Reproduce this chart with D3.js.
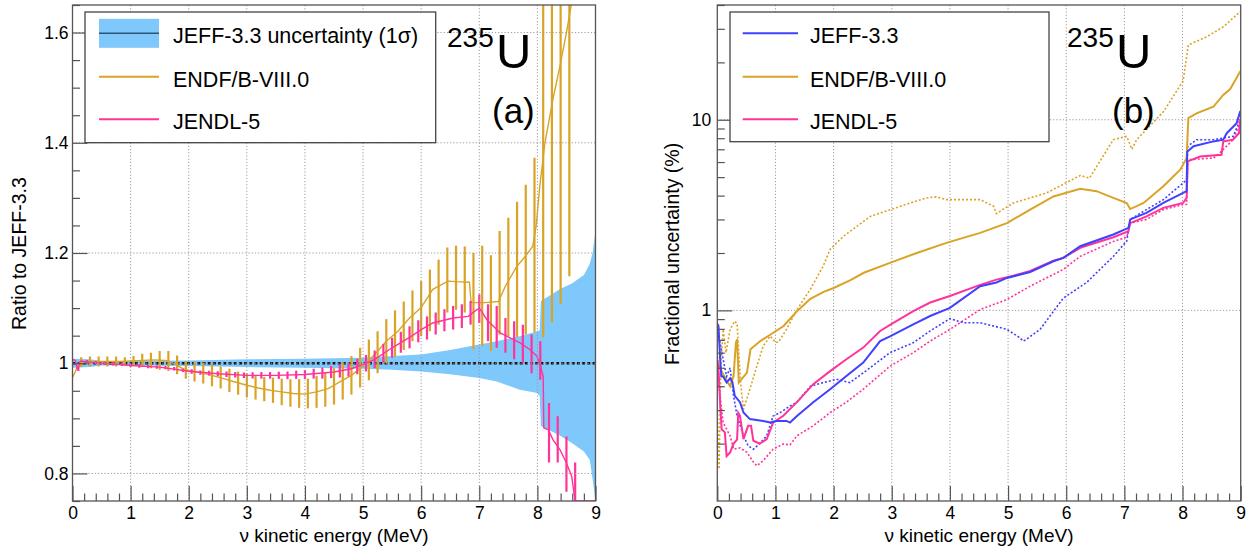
<!DOCTYPE html>
<html><head><meta charset="utf-8">
<script src="https://cdn.jsdelivr.net/npm/d3@7"></script>
<style>
body{margin:0;background:#fff}
text{font-family:"Liberation Sans",Arial,Helvetica,sans-serif;fill:#000}
</style></head><body>
<svg id="c" width="1250" height="546"></svg>
<script>
// ---------------- DATA ----------------
const xTicks = [0,1,2,3,4,5,6,7,8,9];
const xTickLabels = ["0","1","2","3","4","5","6","7","8","9"];
const yTicksL = [0.8,1,1.2,1.4,1.6];
const yTickLabelsL = ["0.8","1","1.2","1.4","1.6"];
const yTicksR = [1,10];
const yTickLabelsR = ["1","10"];
const yMinorR = [0.2,0.3,0.4,0.5,0.6,0.7,0.8,0.9,2,3,4,5,6,7,8,9,20,30,40];

// Left panel: JEFF-3.3 uncertainty band
const bandE  = [0,0.3,0.5,1,2,3,4,5,5.5,6,6.5,7,7.3,7.7,8.0,8.04,8.06,8.2,8.4,8.6,8.8,8.9,8.95,9.0];
const bandHi = [1.008,1.007,1.004,1.004,1.005,1.007,1.008,1.010,1.013,1.016,1.024,1.034,1.040,1.049,1.058,1.060,1.113,1.122,1.135,1.145,1.16,1.18,1.20,1.24];
const bandLo = [0.992,0.993,0.996,0.996,0.995,0.993,0.992,0.990,0.988,0.985,0.980,0.973,0.967,0.952,0.946,0.940,0.886,0.879,0.868,0.855,0.840,0.825,0.790,0.750];

// Left panel: ENDF/B-VIII.0 / JEFF-3.3 ratio
const endfRatioE = [0,0.05,0.1,0.2,0.4,0.6,0.8,1.0,1.2,1.4,1.6,1.7,1.8,1.9,2.0,2.2,2.4,2.6,2.8,3.0,3.2,3.4,3.6,3.8,4.0,4.2,4.4,4.6,4.8,5.0,5.2,5.4,5.6,5.8,6.0,6.2,6.46,6.6,6.83,6.86,7.1,7.33,7.45,7.64,7.8,7.92,7.98,8.04,8.13,8.27,8.39,8.5,8.6,8.7];
const endfRatio  = [0.974,0.985,0.998,1.002,1.003,1.003,1.003,1.004,1.005,1.006,1.005,1.002,0.996,0.990,0.987,0.983,0.978,0.972,0.966,0.960,0.955,0.951,0.948,0.945,0.944,0.948,0.954,0.966,0.978,0.995,1.016,1.040,1.058,1.082,1.101,1.134,1.149,1.148,1.147,1.110,1.110,1.112,1.140,1.175,1.195,1.212,1.250,1.320,1.400,1.480,1.540,1.600,1.660,1.750];
const endfBarE  = [0.15,0.3,0.45,0.6,0.75,0.9,1.05,1.2,1.35,1.5,1.65,1.8,1.95,2.1,2.25,2.4,2.55,2.7,2.85,3.0,3.15,3.3,3.45,3.6,3.75,3.9,4.05,4.2,4.35,4.5,4.65,4.8,4.95,5.1,5.25,5.4,5.55,5.7,5.85,6.0,6.15,6.3,6.45,6.6,6.75,6.9,7.05,7.2,7.35,7.5,7.65,7.8,7.95,8.1,8.25,8.4,8.55];
const endfBarLo = [0.993,0.994,0.994,0.994,0.994,0.995,0.995,0.993,0.991,0.988,0.986,0.980,0.972,0.967,0.963,0.958,0.954,0.948,0.943,0.938,0.934,0.931,0.928,0.924,0.921,0.919,0.918,0.919,0.921,0.925,0.934,0.943,0.956,0.969,0.982,1.000,1.012,1.024,1.040,1.049,1.058,1.070,1.092,1.097,1.092,1.025,1.031,1.022,1.052,1.049,1.047,1.052,1.056,1.047,1.074,1.107,1.158];
const endfBarHi = [1.011,1.012,1.012,1.012,1.012,1.011,1.013,1.017,1.019,1.022,1.022,1.014,1.004,1.003,1.001,0.998,0.994,0.990,0.985,0.982,0.978,0.975,0.974,0.972,0.971,0.971,0.972,0.977,0.983,0.991,1.002,1.013,1.028,1.043,1.058,1.080,1.096,1.112,1.132,1.149,1.170,1.188,1.210,1.213,1.212,1.200,1.213,1.196,1.240,1.264,1.293,1.324,1.373,1.900,2.000,2.100,2.200];

// Left panel: JENDL-5 / JEFF-3.3 ratio
const jendlRatioE = [0,0.05,0.08,0.1,0.12,0.15,0.2,0.3,0.5,0.8,1.0,1.5,2.0,2.5,3.0,3.5,4.0,4.5,4.8,5.0,5.2,5.5,5.8,6.0,6.2,6.55,6.81,6.93,7.0,7.04,7.13,7.36,7.53,7.7,7.87,7.99,8.04,8.1,8.11,8.19,8.27,8.39,8.5,8.59,8.65,8.7,9.0];
const jendlRatio  = [1.007,1.005,0.990,0.990,1.002,1.004,1.003,1.002,1.000,0.998,0.996,0.993,0.9855,0.981,0.978,0.978,0.9795,0.984,0.990,0.998,1.007,1.028,1.047,1.061,1.073,1.082,1.085,1.095,1.100,1.094,1.079,1.055,1.046,1.037,1.025,1.013,1.000,0.976,0.883,0.879,0.861,0.843,0.819,0.795,0.750,0.700,0.700];
const jendlBarE = [0.1,0.25,0.4,0.55,0.7,0.85,1.0,1.15,1.3,1.45,1.6,1.75,1.9,2.05,2.2,2.35,2.5,2.65,2.8,2.95,3.1,3.25,3.4,3.55,3.7,3.85,4.0,4.15,4.3,4.45,4.6,4.75,4.9,5.05,5.2,5.35,5.5,5.65,5.8,5.95,6.1,6.25,6.4,6.55,6.7,6.85,7.0,7.15,7.3,7.45,7.6,7.75,7.9,8.05,8.2,8.35,8.5,8.65];
const jendlBarVal = [0.99,1.003,1.001,1.0,0.999,0.998,0.996,0.995,0.994,0.993,0.992,0.99,0.987,0.985,0.983,0.982,0.981,0.980,0.979,0.978,0.978,0.978,0.978,0.978,0.978,0.979,0.9795,0.981,0.982,0.984,0.986,0.989,0.994,1.0,1.007,1.018,1.028,1.038,1.047,1.058,1.064,1.072,1.078,1.0825,1.0855,1.0915,1.099,1.0735,1.066,1.0505,1.0415,1.0355,1.017,1.005,0.874,0.862,0.817,0.77];
const jendlBarErr = [0.004,0.003,0.003,0.003,0.003,0.003,0.003,0.003,0.003,0.003,0.003,0.003,0.003,0.004,0.004,0.0045,0.0045,0.005,0.005,0.005,0.0055,0.006,0.006,0.0065,0.007,0.0075,0.008,0.009,0.01,0.011,0.012,0.013,0.014,0.015,0.016,0.017,0.018,0.019,0.02,0.02,0.021,0.02,0.02,0.0215,0.0215,0.0215,0.026,0.0335,0.038,0.0315,0.0345,0.0345,0.035,0.035,0.054,0.042,0.05,0.05];

// Right panel: fractional uncertainties (%)
const jeffE  = [0,0.02,0.05,0.07,0.1,0.16,0.22,0.26,0.3,0.39,0.45,0.56,0.79,0.91,1.02,1.19,1.25,1.37,1.65,1.94,2.22,2.51,2.8,2.97,3.37,3.66,4.0,4.52,4.8,4.98,5.38,5.78,5.95,6.24,6.81,7.07,7.1,7.38,7.67,8.01,8.07,8.08,8.19,8.53,8.7,8.76,8.93,8.99,9.0];
const jeffU  = [0.85,0.83,0.55,0.45,0.45,0.418,0.44,0.42,0.356,0.33,0.291,0.269,0.263,0.258,0.263,0.263,0.258,0.279,0.33,0.386,0.453,0.532,0.69,0.73,0.845,0.934,1.03,1.34,1.40,1.48,1.59,1.81,1.885,2.17,2.5,2.71,3.0,3.25,3.66,4.13,4.22,6.8,7.26,7.7,7.86,8.5,9.6,11.0,11.0];
const jeffDE = [0,0.02,0.1,0.16,0.22,0.28,0.34,0.45,0.53,0.62,0.73,0.85,0.96,1.08,1.25,1.37,1.6,1.82,2.05,2.28,2.51,2.97,3.37,3.66,4.0,4.23,4.52,4.98,5.2,5.26,5.3,5.55,5.95,6.35,6.81,7.04,7.1,7.38,7.67,8.01,8.07,8.09,8.24,8.53,8.87,8.99,9.0];
const jeffDU = [0.8,0.75,0.554,0.45,0.5,0.356,0.279,0.22,0.195,0.187,0.2,0.22,0.279,0.291,0.315,0.33,0.40,0.418,0.435,0.418,0.47,0.6,0.677,0.78,0.905,0.862,0.862,0.795,0.719,0.69,0.70,0.795,1.16,1.40,1.92,2.31,3.0,3.38,3.81,4.66,4.85,7.26,7.86,7.86,8.18,10.0,10.0];
const endfE  = [0,0.02,0.1,0.22,0.28,0.32,0.34,0.37,0.51,0.57,0.74,0.91,1.14,1.37,1.6,1.83,2.0,2.29,2.52,2.98,3.43,3.94,4.52,4.98,5.38,5.78,6.24,6.52,6.81,7.04,7.1,7.33,7.67,7.96,8.04,8.07,8.1,8.24,8.53,8.7,8.82,8.99,9.0];
const endfU  = [0.55,0.52,0.462,0.40,0.453,0.677,0.705,0.418,0.472,0.625,0.69,0.745,0.828,0.99,1.15,1.25,1.31,1.44,1.575,1.78,2.0,2.26,2.55,2.87,3.38,3.96,4.34,4.22,3.89,3.66,3.4,3.66,4.48,5.47,6.05,6.3,10.2,10.8,11.7,13.5,14.5,17.9,18.0];
const endfDE = [0,0.03,0.06,0.1,0.15,0.22,0.3,0.34,0.4,0.45,0.56,0.68,0.79,0.91,1.0,1.05,1.19,1.37,1.6,1.82,1.94,2.17,2.4,2.63,2.98,3.32,3.6,3.77,3.94,4.52,4.75,4.8,5.09,5.66,6.24,6.4,6.81,7.04,7.13,7.21,7.67,8.01,8.1,8.42,8.7,8.99,9.0];
const endfDU = [0.3,0.147,0.5,0.795,0.6,0.795,0.879,0.85,0.418,0.303,0.386,0.51,0.65,0.733,0.68,0.68,0.795,1.01,1.29,1.705,2.09,2.45,2.76,3.11,3.38,3.66,3.89,3.94,3.81,3.81,3.52,3.22,3.66,4.13,5.1,4.95,7.86,8.18,7.0,7.86,11.0,16.0,24.7,27.3,30.7,36.9,37.0];
const jendlE  = [0,0.02,0.05,0.075,0.13,0.16,0.22,0.28,0.34,0.36,0.39,0.45,0.53,0.58,0.62,0.73,0.85,0.96,1.13,1.37,1.65,1.94,2.22,2.51,2.8,2.97,3.37,3.66,4.0,4.52,4.8,5.09,5.38,5.78,5.95,6.24,6.81,7.07,7.1,7.38,7.67,8.01,8.07,8.09,8.3,8.67,8.7,8.87,8.97,8.99,9.0];
const jendlU  = [0.55,0.5,0.32,0.238,0.229,0.172,0.18,0.2,0.21,0.29,0.28,0.211,0.248,0.248,0.207,0.2,0.211,0.258,0.279,0.33,0.41,0.48,0.554,0.638,0.78,0.84,0.99,1.10,1.19,1.36,1.45,1.52,1.61,1.82,1.885,2.13,2.42,2.6,2.87,3.11,3.45,3.66,3.89,6.05,6.42,6.55,7.7,7.86,8.5,10.0,10.0];
const jendlDE = [0,0.03,0.1,0.22,0.28,0.39,0.51,0.62,0.68,0.79,0.96,1.13,1.25,1.37,1.65,1.94,2.22,2.51,2.97,3.37,3.66,4.0,4.52,4.98,5.38,5.95,6.24,6.81,7.04,7.1,7.38,7.67,8.01,8.07,8.09,8.53,8.64,8.87,8.99,9.0];
const jendlDU = [0.6,0.4,0.258,0.22,0.187,0.19,0.18,0.16,0.153,0.163,0.187,0.199,0.197,0.22,0.248,0.291,0.33,0.386,0.51,0.6,0.69,0.795,1.01,1.14,1.34,1.64,1.92,2.3,2.42,2.87,3.0,3.38,3.59,3.6,6.17,6.3,6.7,7.86,9.6,9.6];

// ---------------- STYLE ----------------
const C = {band:"#7ec8fb", gold:"#d9a425", pink:"#ff3399", blue:"#4040ff", grid:"#9a9a9a", frame:"#555"};
const svg = d3.select("#c");

function panel(x0,x1,y0,y1){ return {x0,x1,y0,y1}; }
const PL = panel(72.5,595.5,5,501);
const PR = panel(717.3,1240.7,5,501);

const xL = d3.scaleLinear().domain([0,9]).range([PL.x0,PL.x1]);
const yL = d3.scaleLinear().domain([0.75,1.65]).range([PL.y1,PL.y0]);
const yLc = yL.copy().clamp(true);
const xR = d3.scaleLinear().domain([0,9]).range([PR.x0,PR.x1]);
const yR = d3.scaleLog().domain([0.1,40]).range([PR.y1,PR.y0]);

const xMinor = d3.range(0,9.001,0.2).map(v=>+v.toFixed(2)).filter(v=>Math.abs(v-Math.round(v))>1e-6);
const yMinorL = d3.range(0.75,1.651,0.05).map(v=>+v.toFixed(2)).filter(v=>!yTicksL.some(t=>Math.abs(t-v)<1e-6));

function clip(id,P){
  svg.append("clipPath").attr("id",id).append("rect")
    .attr("x",P.x0).attr("y",P.y0).attr("width",P.x1-P.x0).attr("height",P.y1-P.y0);
}
clip("cl",PL); clip("cr",PR);

function grid(P,x,y,yt){
  const g = svg.append("g").attr("stroke",C.grid).attr("stroke-width",1).attr("stroke-dasharray","1.2,2");
  xTicks.slice(1,-1).forEach(v=>g.append("line").attr("x1",x(v)).attr("x2",x(v)).attr("y1",P.y0).attr("y2",P.y1));
  yt.forEach(v=>g.append("line").attr("x1",P.x0).attr("x2",P.x1).attr("y1",y(v)).attr("y2",y(v)));
}

function axes(P,x,y,yt,ytl,ymin,labPadY){
  const st = g=>{ g.select(".domain").remove(); g.selectAll(".tick line").attr("stroke",C.frame).attr("stroke-width",1.2);
    g.selectAll("text").attr("font-size",17.5).attr("font-family","Liberation Sans, Arial, sans-serif").attr("fill","#000"); };
  svg.append("g").attr("transform",`translate(0,${P.y1})`)
    .call(d3.axisBottom(x).tickValues(xTicks).tickSize(-15).tickPadding(6).tickFormat((d,i)=>xTickLabels[i])).call(st);
  svg.append("g").attr("transform",`translate(0,${P.y1})`)
    .call(d3.axisBottom(x).tickValues(xMinor).tickSize(-7.5).tickFormat("")).call(st);
  svg.append("g").attr("transform",`translate(${P.x0},0)`)
    .call(d3.axisLeft(y).tickValues(yt).tickSize(-15).tickPadding(labPadY).tickFormat((d,i)=>ytl[i])).call(st);
  svg.append("g").attr("transform",`translate(${P.x0},0)`)
    .call(d3.axisLeft(y).tickValues(ymin).tickSize(-7.5).tickFormat("")).call(st);
  svg.append("rect").attr("x",P.x0).attr("y",P.y0).attr("width",P.x1-P.x0).attr("height",P.y1-P.y0)
    .attr("fill","none").attr("stroke",C.frame).attr("stroke-width",1.3);
}

// ---------------- LEFT PANEL ----------------
const gl = svg.append("g").attr("clip-path","url(#cl)");
const bandData = bandE.map((e,i)=>({e,lo:bandLo[i],hi:bandHi[i]}));
gl.append("path").datum(bandData)
  .attr("d",d3.area().x(d=>xL(d.e)).y0(d=>yL(d.lo)).y1(d=>yL(d.hi)))
  .attr("fill",C.band);
grid(PL,xL,yL,yTicksL);
gl.append("line").attr("x1",PL.x0).attr("x2",PL.x1).attr("y1",yL(1)).attr("y2",yL(1))
  .attr("stroke","#111").attr("stroke-width",2.6).attr("stroke-dasharray","3,2.2");

// ENDF ratio
gl.append("path").datum(endfRatioE.map((e,i)=>[e,endfRatio[i]]))
  .attr("d",d3.line().x(d=>xL(d[0])).y(d=>yL(d[1])))
  .attr("fill","none").attr("stroke",C.gold).attr("stroke-width",1.4);
gl.append("g").selectAll("line").data(endfBarE).join("line")
  .attr("x1",d=>xL(d)).attr("x2",d=>xL(d))
  .attr("y1",(d,i)=>yL(endfBarLo[i])).attr("y2",(d,i)=>yL(endfBarHi[i]))
  .attr("stroke",C.gold).attr("stroke-width",2.2);

// JENDL ratio
gl.append("path").datum(jendlRatioE.map((e,i)=>[e,jendlRatio[i]]))
  .attr("d",d3.line().x(d=>xL(d[0])).y(d=>yLc(d[1])))
  .attr("fill","none").attr("stroke",C.pink).attr("stroke-width",1.4);
gl.append("g").selectAll("line").data(jendlBarE).join("line")
  .attr("x1",d=>xL(d)).attr("x2",d=>xL(d))
  .attr("y1",(d,i)=>yLc(jendlBarVal[i]-jendlBarErr[i])).attr("y2",(d,i)=>yLc(jendlBarVal[i]+jendlBarErr[i]))
  .attr("stroke",C.pink).attr("stroke-width",2.2);

axes(PL,xL,yL,yTicksL,yTickLabelsL,yMinorL,4);

// ---------------- RIGHT PANEL ----------------
grid(PR,xR,yR,yTicksR);
const gr = svg.append("g").attr("clip-path","url(#cr)");
const lineR = d3.line().x(d=>xR(d[0])).y(d=>yR(d[1]));
const seriesR = [
  {E:endfDE, U:endfDU, c:C.gold, dash:true},
  {E:jendlDE,U:jendlDU,c:C.pink, dash:true},
  {E:jeffDE, U:jeffDU, c:C.blue, dash:true},
  {E:endfE,  U:endfU,  c:C.gold, dash:false},
  {E:jendlE, U:jendlU, c:C.pink, dash:false},
  {E:jeffE,  U:jeffU,  c:C.blue, dash:false}
];
seriesR.forEach(s=>{
  gr.append("path").datum(s.E.map((e,i)=>[e,s.U[i]])).attr("d",lineR)
    .attr("fill","none").attr("stroke",s.c)
    .attr("stroke-width",s.dash?1.6:2)
    .attr("stroke-dasharray",s.dash?"2,2":null);
});
axes(PR,xR,yR,yTicksR,yTickLabelsR,yMinorR,6);

// ---------------- TITLES ----------------
function xtitle(P){
  svg.append("text").attr("x",(P.x0+P.x1)/2).attr("y",542).attr("text-anchor","middle")
    .attr("font-size",19).text("ν kinetic energy (MeV)");
}
xtitle(PL); xtitle(PR);
svg.append("text").attr("transform","translate(26,330) rotate(-90)").attr("font-size",19.5).text("Ratio to JEFF-3.3");
svg.append("text").attr("transform","translate(679,365) rotate(-90)").attr("font-size",19.5).text("Fractional uncertainty (%)");

function nucl(x,lab){
  svg.append("text").attr("x",x).attr("y",46.5).attr("font-size",28).text("235");
  svg.append("text").attr("x",x+49).attr("y",68).attr("font-size",49).text("U");
  svg.append("text").attr("x",x+45).attr("y",122.5).attr("font-size",35).text(lab);
}
nucl(447,"(a)"); nucl(1067,"(b)");

// ---------------- LEGENDS ----------------
function legend(x0,x1,y0,y1,items,sx0,sx1,tx){
  svg.append("rect").attr("x",x0).attr("y",y0).attr("width",x1-x0).attr("height",y1-y0)
    .attr("fill","#fff").attr("stroke","#444").attr("stroke-width",1.3);
  const ly=[33.3,76.7,119.3];
  items.forEach((it,i)=>{
    if(it.fill){
      svg.append("rect").attr("x",sx0).attr("y",ly[i]-14.5).attr("width",sx1-sx0).attr("height",29).attr("fill",it.fill);
    }
    svg.append("line").attr("x1",sx0).attr("x2",sx1).attr("y1",ly[i]).attr("y2",ly[i])
      .attr("stroke",it.c).attr("stroke-width",it.fill?1.4:2);
    svg.append("text").attr("x",tx).attr("y",ly[i]+10).attr("font-size",21.5).text(it.t);
  });
}
legend(85,435.7,12,142.7,[
  {t:"JEFF-3.3 uncertainty (1σ)",c:"#2d5572",fill:C.band},
  {t:"ENDF/B-VIII.0",c:C.gold},
  {t:"JENDL-5",c:C.pink}],99,159,173);
legend(730,1049,12,141.7,[
  {t:"JEFF-3.3",c:C.blue},
  {t:"ENDF/B-VIII.0",c:C.gold},
  {t:"JENDL-5",c:C.pink}],742.7,798,810);
</script></body></html>
